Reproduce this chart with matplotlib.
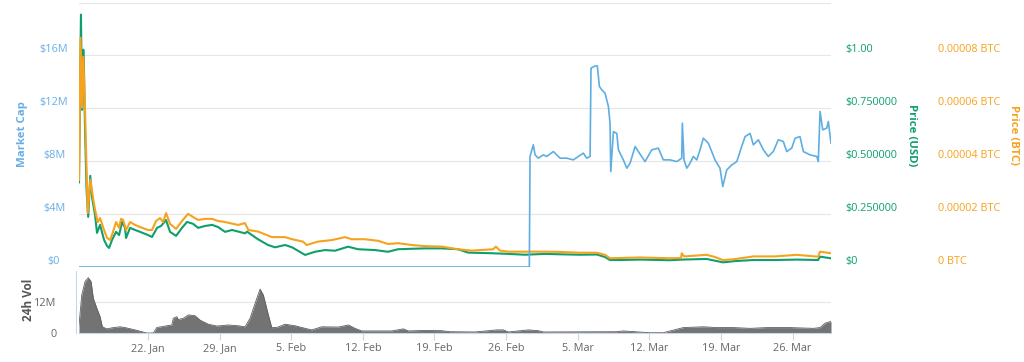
import matplotlib
matplotlib.use('Agg')
import matplotlib.pyplot as plt
import matplotlib.dates as mdates
import pandas as pd

START = pd.Timestamp('2018-01-15')

# (days since 15 Jan 2018, market cap in $M)
MCAP = [(0.25, 0), (44.27, 0), (44.34, 8.36), (44.66, 9.24), (44.83, 8.48), (45.15, 8.23), (45.64, 8.48),
        (45.97, 8.36), (46.62, 8.73), (47.27, 8.23), (47.93, 8.23), (48.57, 8.10), (49.55, 8.61), (49.88, 8.23),
        (50.21, 8.36), (50.30, 15.04), (50.70, 15.2), (50.92, 15.2), (51.12, 13.65), (51.35, 13.4), (51.67, 13.15),
        (52.00, 12.14), (52.16, 10.88), (52.23, 7.21), (52.49, 10.24), (52.82, 10.1), (52.98, 8.86), (53.46, 8.10),
        (53.80, 7.47), (54.12, 7.85), (54.61, 9.11), (54.93, 8.73), (55.58, 7.97), (56.24, 8.86), (56.88, 8.99),
        (57.37, 8.10), (58.03, 8.10), (58.68, 7.97), (59.17, 8.23), (59.23, 10.88), (59.39, 8.10), (59.66, 7.47),
        (59.98, 7.85), (60.30, 8.36), (60.64, 8.10), (60.96, 8.86), (61.28, 9.74), (61.77, 9.36), (62.10, 8.73),
        (62.42, 8.10), (62.91, 7.47), (63.18, 6.08), (63.57, 7.34), (64.06, 7.72), (64.55, 7.97), (65.03, 9.11),
        (65.36, 9.86), (65.85, 10.1), (66.17, 9.24), (66.66, 9.62), (67.15, 8.86), (67.63, 8.36), (68.12, 8.73),
        (68.61, 9.62), (69.10, 9.49), (69.43, 8.73), (69.92, 8.99), (70.25, 9.74), (70.73, 9.86), (71.06, 8.73),
        (71.71, 8.48), (72.37, 8.36), (72.52, 7.97), (72.69, 11.76), (72.95, 10.37), (73.34, 10.5), (73.50, 11.0),
        (73.76, 9.36)]

# (days, price in USD)
PRICE_USD = [(0.25, 0.40), (0.44, 1.193), (0.55, 0.743), (0.67, 1.027), (0.74, 0.932), (0.84, 0.648), (0.99, 0.364),
             (1.15, 0.237), (1.35, 0.431), (1.53, 0.327), (1.82, 0.246), (2.01, 0.161), (2.31, 0.199), (2.70, 0.128),
             (3.00, 0.099), (3.19, 0.090), (3.48, 0.128), (3.87, 0.166), (4.17, 0.151), (4.46, 0.213), (4.75, 0.185),
             (4.85, 0.137), (5.24, 0.185), (5.73, 0.175), (6.22, 0.166), (7.00, 0.151), (7.39, 0.142), (7.88, 0.185),
             (8.27, 0.194), (8.76, 0.222), (9.15, 0.166), (9.74, 0.147), (10.32, 0.185), (10.81, 0.213), (11.40, 0.204),
             (11.89, 0.185), (12.57, 0.194), (13.26, 0.199), (13.84, 0.189), (14.53, 0.166), (15.21, 0.175),
             (16.48, 0.159), (16.68, 0.167), (17.75, 0.131), (18.73, 0.104), (19.41, 0.093), (20.39, 0.104),
             (21.08, 0.093), (22.35, 0.057), (23.32, 0.072), (24.30, 0.080), (25.28, 0.077), (26.55, 0.096),
             (27.53, 0.084), (29.19, 0.080), (30.46, 0.072), (31.44, 0.084), (34.08, 0.088), (35.74, 0.088),
             (37.30, 0.084), (38.28, 0.068), (40.63, 0.065), (42.19, 0.062), (43.85, 0.058), (45.81, 0.062),
             (47.27, 0.060), (49.20, 0.058), (50.86, 0.059), (51.67, 0.047), (52.16, 0.033), (53.10, 0.033),
             (55.10, 0.035), (58.03, 0.032), (59.17, 0.035), (61.60, 0.038), (63.20, 0.022), (64.40, 0.028),
             (66.17, 0.033), (68.30, 0.033), (70.41, 0.035), (72.50, 0.033), (72.69, 0.049), (73.76, 0.041)]

# (days, price in units of 1e-5 BTC)
PRICE_BTC = [(0.25, 3.30), (0.40, 8.67), (0.55, 6.02), (0.67, 7.95), (0.84, 5.94), (1.10, 2.04), (1.36, 3.30),
             (1.65, 2.54), (1.82, 2.16), (2.08, 1.70), (2.31, 1.85), (2.70, 1.40), (2.99, 1.10), (3.29, 1.02),
             (3.58, 1.33), (3.87, 1.70), (4.17, 1.48), (4.36, 1.82), (4.56, 1.78), (4.85, 1.40), (5.24, 1.70),
             (5.73, 1.59), (6.22, 1.51), (7.00, 1.40), (7.39, 1.40), (7.78, 1.74), (8.17, 1.85), (8.47, 1.70),
             (8.76, 2.04), (9.15, 1.63), (9.74, 1.44), (10.32, 1.74), (10.91, 2.01), (11.40, 1.89), (11.89, 1.78),
             (12.57, 1.82), (13.26, 1.82), (13.84, 1.74), (14.53, 1.70), (15.80, 1.59), (16.48, 1.66), (16.80, 1.40),
             (17.75, 1.34), (19.10, 1.13), (20.39, 1.13), (21.08, 1.05), (22.15, 0.96), (22.50, 0.83), (23.60, 0.96),
             (25.00, 1.02), (26.26, 1.13), (26.90, 1.05), (28.20, 1.05), (29.50, 0.99), (30.46, 0.87), (31.44, 0.90),
             (32.80, 0.83), (34.08, 0.79), (35.74, 0.77), (37.30, 0.67), (38.64, 0.62), (40.72, 0.67), (41.00, 0.77),
             (41.40, 0.62), (42.19, 0.58), (43.85, 0.58), (45.81, 0.58), (47.27, 0.57), (49.20, 0.54), (50.86, 0.54),
             (51.67, 0.46), (52.16, 0.33), (53.10, 0.34), (55.10, 0.36), (58.03, 0.33), (59.10, 0.34), (59.17, 0.52),
             (59.40, 0.40), (61.60, 0.46), (62.40, 0.38), (63.20, 0.26), (64.40, 0.30), (66.17, 0.40), (68.30, 0.40),
             (70.41, 0.46), (72.50, 0.39), (72.69, 0.58), (73.76, 0.52)]

# (days, 24h volume in $M)
VOLUME = [(0.25, 3.1), (0.52, 14.7), (0.84, 19.9), (1.16, 21.4), (1.43, 19.9), (1.65, 13.4), (1.99, 9.6), (2.31, 6.3),
          (2.53, 2.4), (2.96, 1.6), (3.61, 2.1), (4.26, 2.4), (4.75, 2.1), (5.73, 1.2), (6.87, 0.0), (7.52, 0.0),
          (7.85, 2.1), (8.83, 2.8), (9.32, 3.1), (9.47, 5.7), (9.81, 6.3), (9.96, 5.2), (10.45, 5.7), (10.94, 7.0),
          (11.59, 6.7), (12.08, 5.0), (12.89, 3.4), (13.72, 2.7), (14.85, 3.1), (15.83, 2.8), (16.48, 2.4),
          (16.97, 5.7), (17.63, 13.4), (17.95, 17.0), (18.27, 14.7), (18.76, 7.0), (19.09, 2.1), (19.58, 2.1),
          (20.39, 3.4), (21.37, 2.8), (22.35, 1.8), (23.00, 1.2), (23.98, 2.4), (25.60, 2.3), (26.58, 3.1),
          (27.23, 1.8), (27.89, 0.8), (30.82, 0.8), (31.96, 1.6), (32.44, 0.8), (34.08, 1.0), (35.71, 0.9),
          (36.52, 0.5), (38.96, 0.4), (41.09, 1.2), (41.73, 1.2), (42.22, 0.4), (44.18, 1.2), (45.15, 0.9),
          (45.64, 0.4), (52.82, 0.5), (53.46, 0.8), (56.07, 0.1), (57.37, 0.1), (58.03, 0.8), (59.33, 2.1),
          (61.28, 2.4), (62.59, 2.1), (64.22, 2.1), (65.85, 1.8), (67.48, 2.1), (69.76, 2.1), (72.03, 1.8),
          (72.69, 2.1), (73.18, 3.8), (73.67, 4.4), (73.76, 4.4)]

MCAP_TICKS = [0, 4e6, 8e6, 12e6, 16e6]
MCAP_LABELS = ['$0', '$4M', '$8M', '$12M', '$16M']
USD_TICKS = [0, 0.25, 0.5, 0.75, 1.0]
USD_LABELS = ['$0', '$0.250000', '$0.500000', '$0.750000', '$1.00']
BTC_TICKS = [0, 2e-5, 4e-5, 6e-5, 8e-5]
BTC_LABELS = ['0 BTC', '0.00002 BTC', '0.00004 BTC', '0.00006 BTC', '0.00008 BTC']
VOL_TICKS = [0, 12e6]
VOL_LABELS = ['0', '12M']
X_TICKS = ['2018-01-22', '2018-01-29', '2018-02-05', '2018-02-12', '2018-02-19',
           '2018-02-26', '2018-03-05', '2018-03-12', '2018-03-19', '2018-03-26']


def to_dates(pairs):
    return START + pd.to_timedelta([p[0] for p in pairs], unit='D')


BLUE = '#5eaee4'
BLUE_TXT = '#6aaee6'
GREEN = '#0f9f6e'
ORANGE = '#f7a21d'
GRID = '#e6e6e6'
AXIS = '#ccd6eb'
GRAYTXT = '#666666'

plt.rcParams['font.family'] = ['Open Sans', 'DejaVu Sans']
FS = 7.8

W, H = 1024, 362
fig = plt.figure(figsize=(W / 100, H / 100), dpi=100)

L, R = 79, 831
main_top, main_bot = 2.5, 267
vol_top, vol_bot = 271, 333

ax = fig.add_axes([L / W, 1 - main_bot / H, (R - L) / W, (main_bot - main_top) / H])
axv = fig.add_axes([L / W, 1 - vol_bot / H, (R - L) / W, (vol_bot - vol_top) / H], sharex=ax)
ax_usd = ax.twinx()
ax_btc = ax.twinx()

xmin = START + pd.Timedelta(days=0.25)
xmax = START + pd.Timedelta(days=73.76)

# grid lines in main
ax.set_ylim(0, 20e6)
for g in [0, 4e6, 8e6, 12e6, 16e6, 20e6]:
    ax.axhline(g, color=GRID, lw=0.8, zorder=0)
ax_usd.set_ylim(0, 1.25)
ax_btc.set_ylim(0, 1e-4)

ax_usd.plot(to_dates(PRICE_USD), [p[1] for p in PRICE_USD], color=GREEN, lw=1.5, zorder=2)
ax_btc.plot(to_dates(PRICE_BTC), [p[1] * 1e-5 for p in PRICE_BTC], color=ORANGE, lw=1.5, zorder=3)
ax_mc = ax.twinx()
ax_mc.set_ylim(0, 20e6)
ax_mc.plot(to_dates(MCAP), [p[1] * 1e6 for p in MCAP], color=BLUE, lw=1.2, zorder=4)
ax_mc.set_yticks([])
for s in ax_mc.spines.values():
    s.set_visible(False)

ax.set_xlim(xmin, xmax)

for a in (ax, ax_usd, ax_btc):
    for s in a.spines.values():
        s.set_visible(False)
    a.tick_params(axis='x', bottom=False, labelbottom=False)

ax.set_yticks(MCAP_TICKS)
ax.set_yticklabels(MCAP_LABELS)
ax.tick_params(axis='y', length=0, pad=18, labelsize=FS, labelcolor=BLUE_TXT)
for lab in ax.get_yticklabels():
    lab.set_horizontalalignment('center')
    lab.set_verticalalignment('bottom')

ax_usd.set_yticks(USD_TICKS)
ax_usd.set_yticklabels(USD_LABELS)
ax_usd.tick_params(axis='y', length=0, pad=10, labelsize=FS, labelcolor=GREEN)
for lab in ax_usd.get_yticklabels():
    lab.set_verticalalignment('bottom')

ax_btc.set_yticks(BTC_TICKS)
ax_btc.set_yticklabels(BTC_LABELS)
ax_btc.tick_params(axis='y', length=0, pad=77, labelsize=FS, labelcolor=ORANGE)
for lab in ax_btc.get_yticklabels():
    lab.set_verticalalignment('bottom')

# volume panel
vd = to_dates(VOLUME)
vv = [p[1] * 1e6 for p in VOLUME]
axv.fill_between(vd, 0, vv, color='#737373', lw=0, zorder=2)
axv.plot(vd, vv, color='#5f5f5f', lw=0.6, zorder=3)
axv.set_ylim(0, 24e6)
axv.axhline(12e6, color=GRID, lw=0.8, zorder=0)
axv.set_yticks(VOL_TICKS)
axv.set_yticklabels(VOL_LABELS)
axv.tick_params(axis='y', length=0, pad=14, labelsize=FS, labelcolor=GRAYTXT)
for lab in axv.get_yticklabels():
    lab.set_verticalalignment('bottom')
for k in ('top', 'right'):
    axv.spines[k].set_visible(False)
axv.spines['left'].set_color(AXIS)
axv.spines['left'].set_linewidth(0.8)
axv.spines['left'].set_position(('outward', 2))
axv.spines['bottom'].set_color(AXIS)
axv.spines['bottom'].set_linewidth(0.8)

xt = pd.to_datetime(X_TICKS)
axv.set_xticks(xt)
axv.set_xticklabels([f"{d.day}. {d.strftime('%b')}" for d in xt])
axv.tick_params(axis='x', length=5, width=0.8, color=AXIS, direction='out', pad=2,
                labelsize=FS, labelcolor=GRAYTXT)
axv.set_xlim(xmin, xmax)

# axis titles
fig.text(22 / W, 1 - 134 / H, 'Market Cap', rotation=90, ha='center', va='center',
         color=BLUE_TXT, fontsize=8.2, fontweight='bold')
fig.text(912 / W, 1 - 135 / H, 'Price (USD)', rotation=270, ha='center', va='center',
         color=GREEN, fontsize=8.2, fontweight='bold')
fig.text(1014 / W, 1 - 135 / H, 'Price (BTC)', rotation=270, ha='center', va='center',
         color=ORANGE, fontsize=8.2, fontweight='bold')
fig.text(28 / W, 1 - 300 / H, '24h Vol', rotation=90, ha='center', va='center',
         color='#555555', fontsize=8.5, fontweight='bold')

fig.savefig('out.png', dpi=100)
